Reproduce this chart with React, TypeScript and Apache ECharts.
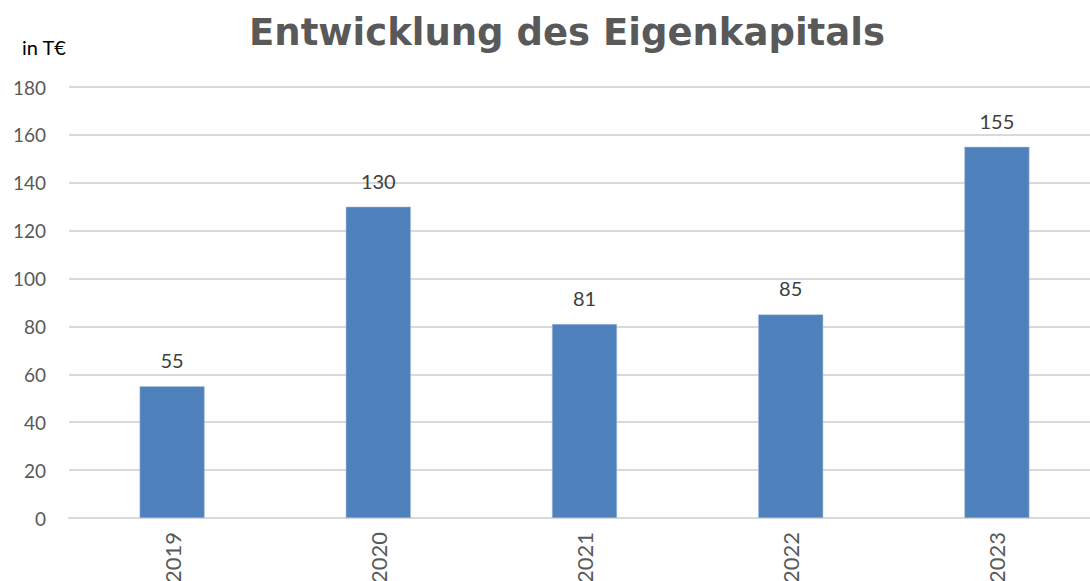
import React, { useEffect, useRef } from "react";
import * as echarts from "echarts";

const categories = ["2019", "2020", "2021", "2022", "2023"];
const values = [55, 130, 81, 85, 155];
const yTicks = [0, 20, 40, 60, 80, 100, 120, 140, 160, 180];

export default function App() {
  const ref = useRef<HTMLDivElement>(null);
  useEffect(() => {
    if (!ref.current) return;
    const chart = echarts.init(ref.current, null, { renderer: "svg" });
    const font = "Lato, 'Open Sans', sans-serif";
    chart.setOption({
      animation: false,
      backgroundColor: "#ffffff",
      title: {
        text: "Entwicklung des Eigenkapitals",
        left: 562,
        textAlign: "center",
        top: 9,
        textStyle: { fontFamily: "'DejaVu Sans', Verdana, sans-serif", fontWeight: "bold", fontSize: 37, color: "#595959" },
      },
      graphic: [
        {
          type: "text",
          left: 22,
          top: 37,
          style: { text: "in T€", fontFamily: font, fontSize: 20, fill: "#000000" },
        },
      ],
      grid: { left: 69, top: 87, width: 1031, height: 431, containLabel: false, outerBoundsMode: "none" },
      xAxis: {
        type: "category",
        data: categories,
        axisLine: { lineStyle: { color: "#d9d9d9", width: 2 } },
        axisTick: { show: false },
        axisLabel: { rotate: 90, color: "#595959", fontFamily: font, fontSize: 22, margin: 14 },
      },
      yAxis: {
        type: "value",
        min: yTicks[0],
        max: yTicks[yTicks.length - 1],
        interval: 20,
        axisLine: { show: false },
        axisTick: { show: false },
        splitLine: { lineStyle: { color: "#d9d9d9", width: 2 } },
        axisLabel: { color: "#595959", fontFamily: font, fontSize: 19, margin: 23 },
      },
      series: [
        {
          type: "bar",
          data: values,
          barWidth: 65,
          itemStyle: { color: "#4f81bd", borderColor: "#a9c0de", borderWidth: 0.5 },
          label: {
            show: true,
            position: "top",
            distance: 16,
            color: "#404040",
            fontFamily: font,
            fontSize: 20,
          },
        },
      ],
    });
    return () => chart.dispose();
  }, []);
  return (
    <div
      ref={ref}
      style={{ position: "fixed", left: 0, top: 0, width: 1090, height: 581 }}
    />
  );
}
